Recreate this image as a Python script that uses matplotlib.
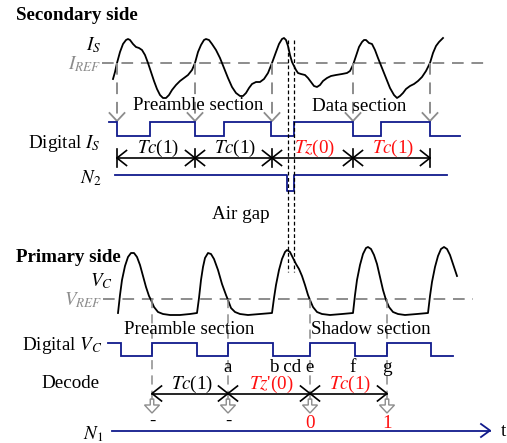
import matplotlib
matplotlib.use("Agg")
import matplotlib.pyplot as plt
from matplotlib.patches import FancyArrow

plt.rcParams['font.family'] = ['Liberation Serif', 'DejaVu Serif']
plt.rcParams['mathtext.fontset'] = 'stix'

# ---------------- data (diagram units: x = time, y = level, screen-like) ---------
# Secondary-side current I_S waveform
sec_t = [113, 115, 117, 120, 123, 126, 128, 130, 133, 136, 139, 142, 145, 148, 151, 154, 157, 160,
         163, 166, 169, 172, 176, 180, 184, 188, 192, 195, 198, 201, 204, 206, 209, 212, 216, 220,
         224, 228, 232, 236, 240, 243, 246, 249, 252, 256, 260, 264, 268, 272, 276, 279, 282, 284,
         286, 288, 290, 292, 294, 296, 298, 301, 305, 308, 311, 314, 317, 320, 323, 327, 331, 336,
         342, 347, 350, 353, 356, 359, 362, 364, 366, 369, 372, 375, 378, 382, 386, 390, 394, 397,
         400, 403, 406, 410, 414, 418, 422, 426, 430, 433, 436, 439, 443]
sec_i = [79, 72, 63, 52, 44, 40, 39, 40, 44, 47, 48, 50, 55, 63, 72, 81, 89, 95,
         98, 98, 95, 90, 85, 81, 78, 75, 70, 63, 52, 45, 40, 39, 40, 44, 50, 58,
         68, 78, 87, 93, 96, 96, 93, 88, 84, 82, 82, 79, 73, 63, 52, 44, 39, 38,
         40, 46, 55, 62, 66, 70, 73, 74, 75, 78, 82, 86, 87, 85, 81, 78, 76, 75,
         74, 73, 71, 65, 56, 47, 42, 40, 40, 43, 44, 50, 58, 68, 78, 88, 95, 98,
         96, 93, 89, 86, 84, 81, 77, 71, 63, 53, 46, 42, 38]
i_ref = 63

# Primary-side voltage V_C waveform
pri_t = [118, 120, 122, 125, 128, 131, 134, 137, 140, 143, 146, 149, 151, 154, 158, 163, 170, 180,
         190, 197, 199, 201, 203, 205, 208, 211, 214, 218, 222, 226, 228, 231, 235, 240, 248, 260,
         272, 274, 276, 279, 282, 285, 287, 290, 293, 296, 299, 302, 305, 308, 310, 313, 317, 322,
         330, 342, 353, 355, 357, 360, 363, 366, 368, 371, 374, 377, 380, 383, 386, 389, 393, 398,
         405, 417, 428, 430, 432, 435, 438, 441, 444, 447, 450, 453, 457]
pri_v = [313, 295, 280, 266, 257, 253, 253, 257, 265, 276, 287, 296, 300, 307, 312, 314, 315, 315,
         314, 313, 298, 280, 267, 258, 253, 254, 259, 270, 284, 295, 300, 308, 312, 314, 315, 314,
         313, 298, 285, 270, 259, 252, 250, 252, 258, 264, 269, 276, 285, 295, 300, 307, 312, 314,
         315, 314, 313, 295, 280, 265, 254, 248, 247, 249, 255, 264, 277, 290, 300, 307, 312, 314,
         315, 314, 313, 296, 282, 267, 256, 249, 247, 249, 255, 264, 276]
v_ref = 299

# Digital I_S: transition times and levels
dis_edges = [109, 117, 150, 195, 224, 271, 294, 353, 381, 430, 460]
dis_levels = ['H', 'L', 'H', 'L', 'H', 'L', 'H', 'L', 'H', 'L']
# Digital V_C
dvc_edges = [108, 121, 152, 197, 228, 273, 310, 355, 387, 431, 453]
dvc_levels = ['H', 'L', 'H', 'L', 'H', 'L', 'H', 'L', 'H', 'L']

# secondary comparator crossings and decoded intervals
sec_cross = [117, 195, 272, 353, 430]
sec_int_names = ['Tc', 'Tc', 'Tz', 'Tc']
sec_int_bits = ['1', '1', '0', '1']
sec_int_red = [False, False, True, True]
# primary crossings
pri_cross = [152, 228, 310, 387]
pri_int_names = ['Tc', "Tz'", 'Tc']
pri_int_bits = ['1', '0', '1']
pri_int_red = [False, True, True]
pri_bits = ['-', '-', '0', '1']
pri_bits_red = [False, False, True, True]

# N2 pulse (air-gap injection)
n2_span = [115, 447]
n2_pulse = [287, 294]
# edge labels on Digital V_C
edge_letters = ['a', 'b cd e', 'f', 'g']
edge_letter_x = [228, 291.5, 353, 387]

# ---------------- style ----------------
BLUE = '#101a8c'
GRAY = '#8c8c8c'
RED = '#ff1010'
FS = 13.7

fig = plt.figure(figsize=(5.07, 4.43), dpi=100)
ax = fig.add_axes([0, 0, 1, 1])
ax.set_xlim(0, 507)
ax.set_ylim(443, 0)
ax.axis('off')


def step(edges, levels, yh, yl):
    xs, ys = [], []
    for k, lv in enumerate(levels):
        y = yh if lv == 'H' else yl
        xs += [edges[k], edges[k + 1]]
        ys += [y, y]
    ax.plot(xs, ys, color=BLUE, lw=1.3, solid_joinstyle='miter')


def chev_down(x, ytip, color, w=7.5, h=8, lw=1.3):
    ax.plot([x - w, x, x + w], [ytip - h, ytip, ytip - h], color=color, lw=lw)


def chev_h(x, y, d, color='black', L=9.5, w=7.5, lw=1.2):
    # d = +1 points right, -1 points left
    ax.plot([x - d * L, x, x - d * L], [y - w, y, y + w], color=color, lw=lw)


def interval_label(xc, y, name, bit, red):
    col = RED if red else 'black'
    if name.endswith("'"):
        s = '$' + name[:-1] + "$'(" + bit + ')'
    else:
        s = '$' + name + '$(' + bit + ')'
    ax.text(xc, y, s, color=col, fontsize=FS, ha='center', va='center')


# ================= Secondary side =================
ax.text(16, 15.5, 'Secondary side', fontsize=FS, fontweight='bold', ha='left', va='center')
ax.text(101, 45.5, r'$I_S$', fontsize=FS, ha='right', va='center')
ax.text(101, 64, r'$I_{REF}$', fontsize=FS, ha='right', va='center', color=GRAY)
ax.plot([102, 484], [i_ref, i_ref], color=GRAY, lw=1.4, dashes=(6, 4))
ax.plot(sec_t, sec_i, color='black', lw=1.3)

for x in sec_cross:
    ax.plot([x, x], [i_ref, 120], color=GRAY, lw=1.4, dashes=(6, 4))
    chev_down(x, 121, GRAY)

ax.text(198.5, 105.5, 'Preamble section', fontsize=FS, ha='center', va='center')
ax.text(359, 106.5, 'Data section', fontsize=FS, ha='center', va='center')

ax.text(101, 143, r'Digital $I_S$', fontsize=FS, ha='right', va='center')
step(dis_edges, dis_levels, 121.5, 136)

# interval arrows
ya = 158
ax.plot([sec_cross[0], sec_cross[-1]], [ya, ya], color='black', lw=1.2)
for k, x in enumerate(sec_cross):
    ax.plot([x, x], [149, 167], color='black', lw=1.2)
    if k > 0:
        chev_h(x, ya, +1)
    if k < len(sec_cross) - 1:
        chev_h(x, ya, -1)
for k in range(len(sec_int_names)):
    xc = 0.5 * (sec_cross[k] + sec_cross[k + 1])
    interval_label(xc + 2, 148.5, sec_int_names[k], sec_int_bits[k], sec_int_red[k])

ax.text(101, 178, r'$N_2$', fontsize=FS, ha='right', va='center')
ax.plot([n2_span[0], n2_pulse[0], n2_pulse[0], n2_pulse[1], n2_pulse[1], n2_span[1]],
        [174.5, 174.5, 191, 191, 174.5, 174.5], color=BLUE, lw=1.3)

# air gap marker lines
for x in [287.5, 293.8]:
    ax.plot([x, x], [40, 272], color='black', lw=0.9, dashes=(3, 2))
ax.text(241, 214, 'Air gap', fontsize=FS, ha='center', va='center')

# ================= Primary side =================
ax.text(16, 257, 'Primary side', fontsize=FS, fontweight='bold', ha='left', va='center')
ax.text(113, 281, r'$V_C$', fontsize=FS, ha='right', va='center')
ax.text(102, 300, r'$V_{REF}$', fontsize=FS, ha='right', va='center', color=GRAY)
ax.plot([103, 473], [v_ref, v_ref], color=GRAY, lw=1.4, dashes=(6, 4))
ax.plot(pri_t, pri_v, color='black', lw=1.3)

for x in pri_cross:
    ax.plot([x, x], [v_ref, 400], color=GRAY, lw=1.1, dashes=(6, 4))
    ax.add_patch(FancyArrow(x, 399, 0, 14, width=3.5, head_width=15, head_length=8,
                            length_includes_head=True, fc='white', ec=GRAY, lw=1.0))

ax.text(189, 329, 'Preamble section', fontsize=FS, ha='center', va='center')
ax.text(370.5, 330, 'Shadow section', fontsize=FS, ha='center', va='center')

ax.text(102, 346, r'Digital $V_C$', fontsize=FS, ha='right', va='center')
step(dvc_edges, dvc_levels, 342.5, 355.5)

for lt, x in zip(edge_letters, edge_letter_x):
    ax.text(x, 367, lt, fontsize=FS, ha='center', va='center')

ax.text(71, 383, 'Decode', fontsize=FS, ha='center', va='center')
yb = 393.5
ax.plot([pri_cross[0], pri_cross[-1]], [yb, yb], color='black', lw=1.2)
for k, x in enumerate(pri_cross):
    if k > 0:
        chev_h(x, yb, +1)
    if k < len(pri_cross) - 1:
        chev_h(x, yb, -1)
for k in range(len(pri_int_names)):
    xc = 0.5 * (pri_cross[k] + pri_cross[k + 1])
    interval_label(xc + 2, 384.5, pri_int_names[k], pri_int_bits[k], pri_int_red[k])

for x, b, r in zip(pri_cross, pri_bits, pri_bits_red):
    ax.text(x, 421 if b == '-' else 423, b, fontsize=FS, ha='center', va='center',
            color=RED if r else 'black')

ax.text(103, 434, r'$N_1$', fontsize=FS, ha='right', va='center')
ax.plot([112, 490], [430.5, 430.5], color=BLUE, lw=1.3)
chev_h(490, 430.5, +1, color=BLUE, L=9, w=6.5, lw=1.3)
ax.text(503, 431, 't', fontsize=FS, ha='center', va='center')

fig.savefig('out.png', dpi=100)
